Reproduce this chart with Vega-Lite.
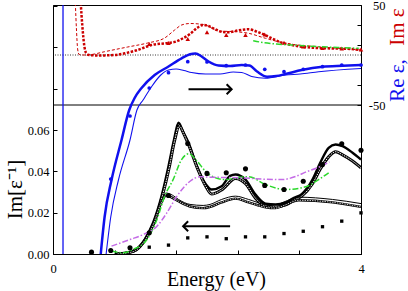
{
  "$schema": "https://vega.github.io/schema/vega-lite/v6.json",
  "width": 308,
  "height": 249,
  "autosize": {"type": "none"},
  "padding": {"left": 53, "top": 5, "right": 47, "bottom": 37},
  "background": "white",
  "config": {
    "view": {"stroke": "black", "strokeWidth": 1},
    "font": "Liberation Serif",
    "axis": {"grid": false, "domainColor": "black", "tickColor": "black", "labelColor": "black", "titleColor": "black", "labelFont": "Liberation Serif", "titleFont": "Liberation Serif", "labelFontSize": 12.5, "titleFontWeight": "normal", "tickSize": -4, "labelFlush": false, "labelOverlap": false}
  },
  "datasets": {
    "c1": [{"E":0.8,"v":0},{"E":0.91,"v":0.0003},{"E":1.04,"v":0.0014},{"E":1.19,"v":0.007},{"E":1.3,"v":0.0151},{"E":1.41,"v":0.028},{"E":1.5,"v":0.0425},{"E":1.57,"v":0.055},{"E":1.63,"v":0.0635},{"E":1.69,"v":0.059},{"E":1.76,"v":0.0538},{"E":1.87,"v":0.0425},{"E":1.98,"v":0.034},{"E":2.06,"v":0.0312},{"E":2.19,"v":0.0328},{"E":2.3,"v":0.0378},{"E":2.37,"v":0.0385},{"E":2.5,"v":0.036},{"E":2.63,"v":0.0288},{"E":2.76,"v":0.0244},{"E":2.89,"v":0.024},{"E":3.02,"v":0.0248},{"E":3.13,"v":0.0272},{"E":3.23,"v":0.029},{"E":3.37,"v":0.036},{"E":3.47,"v":0.0441},{"E":3.58,"v":0.0514},{"E":3.67,"v":0.053},{"E":3.76,"v":0.0522},{"E":3.89,"v":0.049},{"E":4.0,"v":0.0457}],
    "c2": [{"E":0.83,"v":0},{"E":0.95,"v":0.0005},{"E":1.06,"v":0.0016},{"E":1.2,"v":0.007},{"E":1.31,"v":0.015},{"E":1.42,"v":0.028},{"E":1.51,"v":0.042},{"E":1.58,"v":0.055},{"E":1.64,"v":0.062},{"E":1.7,"v":0.058},{"E":1.77,"v":0.052},{"E":1.88,"v":0.041},{"E":1.98,"v":0.033},{"E":2.06,"v":0.029},{"E":2.19,"v":0.031},{"E":2.37,"v":0.0365},{"E":2.5,"v":0.034},{"E":2.63,"v":0.027},{"E":2.76,"v":0.0232},{"E":2.89,"v":0.0228},{"E":3.02,"v":0.0238},{"E":3.13,"v":0.026},{"E":3.23,"v":0.028},{"E":3.37,"v":0.034},{"E":3.47,"v":0.041},{"E":3.58,"v":0.047},{"E":3.67,"v":0.0495},{"E":3.76,"v":0.048},{"E":3.89,"v":0.045},{"E":4.0,"v":0.0417}],
    "c3": [{"E":0.82,"v":0},{"E":0.95,"v":0.0005},{"E":1.06,"v":0.002},{"E":1.2,"v":0.0075},{"E":1.31,"v":0.0155},{"E":1.4,"v":0.025},{"E":1.47,"v":0.0295},{"E":1.55,"v":0.0285},{"E":1.63,"v":0.0264},{"E":1.78,"v":0.024},{"E":1.95,"v":0.0235},{"E":2.04,"v":0.024},{"E":2.19,"v":0.0264},{"E":2.37,"v":0.028},{"E":2.54,"v":0.0264},{"E":2.76,"v":0.024},{"E":2.89,"v":0.0238},{"E":3.0,"v":0.0252},{"E":3.19,"v":0.0275},{"E":3.63,"v":0.0264},{"E":4.0,"v":0.0244}],
    "c4": [{"E":0.84,"v":0},{"E":0.96,"v":0.0005},{"E":1.07,"v":0.0016},{"E":1.2,"v":0.007},{"E":1.31,"v":0.015},{"E":1.4,"v":0.0243},{"E":1.47,"v":0.0283},{"E":1.55,"v":0.0272},{"E":1.63,"v":0.0255},{"E":1.78,"v":0.023},{"E":1.95,"v":0.0222},{"E":2.04,"v":0.0228},{"E":2.19,"v":0.025},{"E":2.37,"v":0.0268},{"E":2.54,"v":0.025},{"E":2.76,"v":0.0226},{"E":2.89,"v":0.0222},{"E":3.0,"v":0.0235},{"E":3.19,"v":0.026},{"E":3.63,"v":0.025},{"E":4.0,"v":0.0228}],
    "greenB": [{"E":0.76,"v":0.0014},{"E":0.91,"v":0.0006},{"E":1.04,"v":0.0022},{"E":1.22,"v":0.007},{"E":1.35,"v":0.0167},{"E":1.45,"v":0.028},{"E":1.56,"v":0.036},{"E":1.67,"v":0.0457},{"E":1.76,"v":0.0485},{"E":1.87,"v":0.045},{"E":1.98,"v":0.04},{"E":2.1,"v":0.037},{"E":2.24,"v":0.036},{"E":2.4,"v":0.037},{"E":2.54,"v":0.0374},{"E":2.76,"v":0.0336},{"E":3.02,"v":0.0312},{"E":3.28,"v":0.0325},{"E":3.45,"v":0.036},{"E":3.58,"v":0.0393}],
    "magenta": [{"E":0.76,"v":0.0038},{"E":1.0,"v":0.007},{"E":1.17,"v":0.0094},{"E":1.35,"v":0.0134},{"E":1.48,"v":0.02},{"E":1.61,"v":0.028},{"E":1.78,"v":0.0352},{"E":1.91,"v":0.0374},{"E":2.04,"v":0.0372},{"E":2.41,"v":0.0369},{"E":2.75,"v":0.0362},{"E":2.97,"v":0.036},{"E":3.15,"v":0.0375},{"E":3.28,"v":0.0396},{"E":3.45,"v":0.042},{"E":3.59,"v":0.0446}],
    "circles": [{"E":0.5,"v":0.0009},{"E":0.75,"v":0.0017},{"E":1.0,"v":0.003},{"E":1.25,"v":0.0103},{"E":1.5,"v":0.0283},{"E":1.75,"v":0.0535},{"E":2.0,"v":0.039},{"E":2.25,"v":0.0393},{"E":2.5,"v":0.0412},{"E":2.75,"v":0.0332},{"E":3.0,"v":0.0312},{"E":3.25,"v":0.0352},{"E":3.5,"v":0.0433},{"E":3.75,"v":0.0533},{"E":4.0,"v":0.0502}],
    "squares": [{"E":1.25,"v":0.0033},{"E":1.5,"v":0.0043},{"E":1.75,"v":0.0078},{"E":2.0,"v":0.0083},{"E":2.25,"v":0.0074},{"E":2.5,"v":0.0083},{"E":2.75,"v":0.0083},{"E":3.0,"v":0.0099},{"E":3.25,"v":0.011},{"E":3.5,"v":0.0132},{"E":3.75,"v":0.0159},{"E":4.0,"v":0.0199}],
    "arrowB": [{"E":1.69,"v":0.01345},{"E":2.3,"v":0.01345}],
    "arrowBHead": [{"E":1.69,"v":0.01345}],
    "blueThick": [{"E":0.62,"v":-199},{"E":0.67,"v":-162},{"E":0.76,"v":-125},{"E":0.89,"v":-85},{"E":0.99,"v":-55},{"E":1.06,"v":-43},{"E":1.15,"v":-33},{"E":1.32,"v":-20},{"E":1.5,"v":-11.5},{"E":1.67,"v":-3.3},{"E":1.78,"v":0.7},{"E":1.85,"v":1.5},{"E":1.93,"v":-1.5},{"E":2.02,"v":-6.5},{"E":2.15,"v":-10.5},{"E":2.3,"v":-11},{"E":2.45,"v":-10},{"E":2.55,"v":-10.5},{"E":2.65,"v":-16.5},{"E":2.78,"v":-21.7},{"E":2.9,"v":-21},{"E":3.02,"v":-19},{"E":3.23,"v":-15},{"E":3.5,"v":-11.7},{"E":3.76,"v":-10.7},{"E":4.0,"v":-10}],
    "blueThin": [{"E":0.69,"v":-199},{"E":0.75,"v":-162},{"E":0.85,"v":-125},{"E":1.0,"v":-85},{"E":1.09,"v":-55},{"E":1.17,"v":-45},{"E":1.28,"v":-31.7},{"E":1.4,"v":-20},{"E":1.5,"v":-15},{"E":1.6,"v":-14},{"E":1.7,"v":-15.5},{"E":1.8,"v":-17.5},{"E":1.98,"v":-19},{"E":2.17,"v":-19},{"E":2.34,"v":-17},{"E":2.45,"v":-17.5},{"E":2.58,"v":-21.5},{"E":2.76,"v":-23.3},{"E":3.02,"v":-20},{"E":3.21,"v":-19},{"E":3.45,"v":-16.7},{"E":4.0,"v":-13.5}],
    "blueVert": [{"E":0.13,"v":50},{"E":0.13,"v":-199}],
    "blueDots": [{"E":0.75,"v":-124},{"E":1.0,"v":-61},{"E":1.25,"v":-33},{"E":1.5,"v":-17.7},{"E":1.75,"v":-6.7},{"E":2.0,"v":-7},{"E":2.25,"v":-10.7},{"E":2.5,"v":-10},{"E":2.75,"v":-14.3},{"E":3.0,"v":-16.7},{"E":3.25,"v":-14.3},{"E":3.5,"v":-11.7},{"E":3.75,"v":-10},{"E":4.0,"v":-10}],
    "redThick": [{"E":0.36,"v":52},{"E":0.38,"v":30},{"E":0.405,"v":10},{"E":0.43,"v":2},{"E":0.47,"v":0},{"E":0.6,"v":-0.5},{"E":0.8,"v":0},{"E":0.95,"v":2},{"E":1.1,"v":5},{"E":1.28,"v":10},{"E":1.49,"v":12},{"E":1.6,"v":13.5},{"E":1.67,"v":16},{"E":1.78,"v":21},{"E":1.87,"v":27},{"E":1.95,"v":30},{"E":2.02,"v":29},{"E":2.1,"v":26},{"E":2.2,"v":23},{"E":2.28,"v":22.7},{"E":2.4,"v":24.5},{"E":2.54,"v":25.7},{"E":2.65,"v":23.3},{"E":2.78,"v":19},{"E":2.97,"v":12.3},{"E":3.1,"v":10},{"E":3.23,"v":8.3},{"E":3.54,"v":6.7},{"E":3.8,"v":6.3},{"E":4.0,"v":5}],
    "redThin": [{"E":0.29,"v":52},{"E":0.305,"v":25},{"E":0.32,"v":6},{"E":0.34,"v":0.5},{"E":0.4,"v":0},{"E":0.5,"v":0.5},{"E":0.67,"v":3.3},{"E":0.97,"v":8},{"E":1.23,"v":12},{"E":1.45,"v":17},{"E":1.58,"v":25},{"E":1.67,"v":30},{"E":1.78,"v":31.5},{"E":1.9,"v":31},{"E":1.98,"v":30},{"E":2.15,"v":24},{"E":2.37,"v":23.3},{"E":2.54,"v":21.7},{"E":2.76,"v":16.7},{"E":3.02,"v":11.7},{"E":3.45,"v":8.3},{"E":4.0,"v":5}],
    "redTri": [{"E":1.25,"v":11},{"E":1.5,"v":12},{"E":1.75,"v":16},{"E":2.0,"v":22.7},{"E":2.25,"v":20},{"E":2.5,"v":20},{"E":2.75,"v":20.5},{"E":3.0,"v":12.3},{"E":3.25,"v":8.5},{"E":3.5,"v":7},{"E":3.75,"v":6.5},{"E":4.0,"v":5.5}],
    "greenT": [{"E":2.6,"v":14.3},{"E":2.7,"v":12.8},{"E":2.9,"v":11},{"E":3.2,"v":9.5},{"E":3.45,"v":8.3},{"E":3.7,"v":7.5},{"E":3.97,"v":6.7}],
    "zeroLine": [{"v":0}],
    "sepLine": [{"v":-50}],
    "arrowT": [{"E":1.76,"v":-34.3},{"E":2.32,"v":-34.3}],
    "arrowTHead": [{"E":2.32,"v":-34.3}],
    "imLabel": [{"E":4.475,"v":28,"t":"Im ε"}]
  },
  "resolve": {"scale": {"y": "independent"}},
  "layer": [
    {
      "layer": [
        {"data": {"name": "c1"}, "mark": {"type": "line", "color": "black", "strokeWidth": 2.4, "interpolate": "monotone", "clip": true},
         "encoding": {
           "x": {"field": "E", "type": "quantitative", "scale": {"domain": [0, 4], "nice": false, "zero": false},
                 "axis": {"values": [0,0.2,0.4,0.6,0.8,1,1.2,1.4,1.6,1.8,2,2.2,2.4,2.6,2.8,3,3.2,3.4,3.6,3.8,4], "labelExpr": "abs(datum.value - round(datum.value)) < 0.01 ? format(datum.value, 'd') : ''", "labelPadding": 12, "labelFont": "Liberation Serif", "title": "Energy (eV)", "titleFont": "Liberation Serif", "titleFontWeight": "normal", "titleFontSize": 20, "titleX": 163, "titleY": 31.5, "titleAlign": "center", "titleBaseline": "alphabetic"}},
           "y": {"field": "v", "type": "quantitative", "scale": {"domain": [0, 0.1205], "nice": false},
                 "axis": {"orient": "left", "values": [0,0.005,0.01,0.015,0.02,0.025,0.03,0.035,0.04,0.045,0.05,0.055,0.06,0.065,0.07,0.075,0.08,0.085,0.09,0.095,0.1,0.105,0.11,0.115,0.12], "labelExpr": "datum.value < 0.07 && abs(datum.value*50 - round(datum.value*50)) < 0.01 ? format(datum.value, '.2f') : ''", "labelPadding": 8, "labelFont": "Liberation Serif", "title": "Im[ε⁻¹]", "titleFont": "Liberation Serif", "titleFontWeight": "normal", "titleFontSize": 21, "titleAngle": 270, "titleX": -38, "titleY": 184, "titleAlign": "center", "titleBaseline": "middle"}}
         }},
        {"data": {"name": "c2"}, "mark": {"type": "line", "color": "black", "strokeWidth": 3, "interpolate": "monotone", "clip": true},
         "encoding": {"x": {"field": "E", "type": "quantitative", "scale": {"domain": [0, 4], "nice": false, "zero": false}}, "y": {"field": "v", "type": "quantitative", "scale": {"domain": [0, 0.1205], "nice": false}}}},
        {"data": {"name": "c2"}, "mark": {"type": "line", "color": "white", "strokeWidth": 1, "strokeDash": [1.5, 1], "interpolate": "monotone", "clip": true},
         "encoding": {"x": {"field": "E", "type": "quantitative", "scale": {"domain": [0, 4], "nice": false, "zero": false}}, "y": {"field": "v", "type": "quantitative", "scale": {"domain": [0, 0.1205], "nice": false}}}},
        {"data": {"name": "c3"}, "mark": {"type": "line", "color": "black", "strokeWidth": 1, "interpolate": "monotone", "clip": true},
         "encoding": {"x": {"field": "E", "type": "quantitative", "scale": {"domain": [0, 4], "nice": false, "zero": false}}, "y": {"field": "v", "type": "quantitative", "scale": {"domain": [0, 0.1205], "nice": false}}}},
        {"data": {"name": "c4"}, "mark": {"type": "line", "color": "black", "strokeWidth": 2.4, "interpolate": "monotone", "clip": true},
         "encoding": {"x": {"field": "E", "type": "quantitative", "scale": {"domain": [0, 4], "nice": false, "zero": false}}, "y": {"field": "v", "type": "quantitative", "scale": {"domain": [0, 0.1205], "nice": false}}}},
        {"data": {"name": "c4"}, "mark": {"type": "line", "color": "white", "strokeWidth": 0.8, "strokeDash": [1.5, 1], "interpolate": "monotone", "clip": true},
         "encoding": {"x": {"field": "E", "type": "quantitative", "scale": {"domain": [0, 4], "nice": false, "zero": false}}, "y": {"field": "v", "type": "quantitative", "scale": {"domain": [0, 0.1205], "nice": false}}}},
        {"data": {"name": "greenB"}, "mark": {"type": "line", "color": "#2bd82b", "strokeWidth": 1.5, "strokeDash": [6, 2, 1.5, 2], "interpolate": "monotone", "clip": true},
         "encoding": {"x": {"field": "E", "type": "quantitative", "scale": {"domain": [0, 4], "nice": false, "zero": false}}, "y": {"field": "v", "type": "quantitative", "scale": {"domain": [0, 0.1205], "nice": false}}}},
        {"data": {"name": "magenta"}, "mark": {"type": "line", "color": "#c46be6", "strokeWidth": 1.5, "strokeDash": [6, 2, 1.5, 2], "interpolate": "monotone", "clip": true},
         "encoding": {"x": {"field": "E", "type": "quantitative", "scale": {"domain": [0, 4], "nice": false, "zero": false}}, "y": {"field": "v", "type": "quantitative", "scale": {"domain": [0, 0.1205], "nice": false}}}},
        {"data": {"name": "circles"}, "mark": {"type": "point", "shape": "circle", "filled": true, "color": "black", "size": 26, "opacity": 1},
         "encoding": {"x": {"field": "E", "type": "quantitative", "scale": {"domain": [0, 4], "nice": false, "zero": false}}, "y": {"field": "v", "type": "quantitative", "scale": {"domain": [0, 0.1205], "nice": false}}}},
        {"data": {"name": "squares"}, "mark": {"type": "point", "shape": "square", "filled": true, "color": "black", "size": 11, "opacity": 1},
         "encoding": {"x": {"field": "E", "type": "quantitative", "scale": {"domain": [0, 4], "nice": false, "zero": false}}, "y": {"field": "v", "type": "quantitative", "scale": {"domain": [0, 0.1205], "nice": false}}}},
        {"data": {"name": "arrowB"}, "mark": {"type": "line", "color": "black", "strokeWidth": 2},
         "encoding": {"x": {"field": "E", "type": "quantitative", "scale": {"domain": [0, 4], "nice": false, "zero": false}}, "y": {"field": "v", "type": "quantitative", "scale": {"domain": [0, 0.1205], "nice": false}}}},
        {"data": {"name": "arrowBHead"}, "mark": {"type": "point", "shape": "M1,-1L0,0L1,1", "filled": false, "stroke": "black", "strokeWidth": 2, "size": 100, "opacity": 1},
         "encoding": {"x": {"field": "E", "type": "quantitative", "scale": {"domain": [0, 4], "nice": false, "zero": false}}, "y": {"field": "v", "type": "quantitative", "scale": {"domain": [0, 0.1205], "nice": false}}}}
      ]
    },
    {
      "layer": [
        {"data": {"name": "zeroLine"}, "mark": {"type": "rule", "color": "black", "strokeWidth": 0.8, "strokeDash": [1, 1.5]},
         "encoding": {"y": {"field": "v", "type": "quantitative", "scale": {"domain": [-199, 50], "nice": false},
           "axis": {"orient": "right", "values": [-50,-40,-30,-20,-10,0,10,20,30,40,50], "labelExpr": "datum.value == 50 ? '50' : datum.value == 0 ? '0' : datum.value == -50 ? '-50' : ''", "labelAlign": "right", "labelPadding": 28, "labelFont": "Liberation Serif", "title": "Re ε,", "titleFont": "Liberation Serif", "titleFontWeight": "normal", "titleColor": "#1010ee", "titleFontSize": 21, "titleAngle": 270, "titleX": 36, "titleY": 75, "titleAlign": "center", "titleBaseline": "middle"}}}},
        {"data": {"name": "sepLine"}, "mark": {"type": "rule", "color": "black", "strokeWidth": 1},
         "encoding": {"y": {"field": "v", "type": "quantitative", "scale": {"domain": [-199, 50], "nice": false}}}},
        {"data": {"name": "redThin"}, "mark": {"type": "line", "color": "#cc0000", "strokeWidth": 1, "strokeDash": [3, 2], "interpolate": "monotone", "clip": true},
         "encoding": {"x": {"field": "E", "type": "quantitative", "scale": {"domain": [0, 4], "nice": false, "zero": false}}, "y": {"field": "v", "type": "quantitative", "scale": {"domain": [-199, 50], "nice": false}}}},
        {"data": {"name": "redThick"}, "mark": {"type": "line", "color": "#cc0000", "strokeWidth": 2.5, "strokeDash": [2.5, 1.5], "interpolate": "monotone", "clip": true},
         "encoding": {"x": {"field": "E", "type": "quantitative", "scale": {"domain": [0, 4], "nice": false, "zero": false}}, "y": {"field": "v", "type": "quantitative", "scale": {"domain": [-199, 50], "nice": false}}}},
        {"data": {"name": "redTri"}, "mark": {"type": "point", "shape": "triangle-up", "filled": true, "color": "#cc0000", "size": 20, "opacity": 1},
         "encoding": {"x": {"field": "E", "type": "quantitative", "scale": {"domain": [0, 4], "nice": false, "zero": false}}, "y": {"field": "v", "type": "quantitative", "scale": {"domain": [-199, 50], "nice": false}}}},
        {"data": {"name": "greenT"}, "mark": {"type": "line", "color": "#2bd82b", "strokeWidth": 1.5, "strokeDash": [6, 2, 1.5, 2], "interpolate": "monotone", "clip": true},
         "encoding": {"x": {"field": "E", "type": "quantitative", "scale": {"domain": [0, 4], "nice": false, "zero": false}}, "y": {"field": "v", "type": "quantitative", "scale": {"domain": [-199, 50], "nice": false}}}},
        {"data": {"name": "blueVert"}, "mark": {"type": "line", "color": "#1010ee", "strokeWidth": 1.3, "clip": true},
         "encoding": {"x": {"field": "E", "type": "quantitative", "scale": {"domain": [0, 4], "nice": false, "zero": false}}, "y": {"field": "v", "type": "quantitative", "scale": {"domain": [-199, 50], "nice": false}}}},
        {"data": {"name": "blueThin"}, "mark": {"type": "line", "color": "#1010ee", "strokeWidth": 1.1, "interpolate": "monotone", "clip": true},
         "encoding": {"x": {"field": "E", "type": "quantitative", "scale": {"domain": [0, 4], "nice": false, "zero": false}}, "y": {"field": "v", "type": "quantitative", "scale": {"domain": [-199, 50], "nice": false}}}},
        {"data": {"name": "blueThick"}, "mark": {"type": "line", "color": "#1010ee", "strokeWidth": 2.5, "interpolate": "monotone", "clip": true},
         "encoding": {"x": {"field": "E", "type": "quantitative", "scale": {"domain": [0, 4], "nice": false, "zero": false}}, "y": {"field": "v", "type": "quantitative", "scale": {"domain": [-199, 50], "nice": false}}}},
        {"data": {"name": "blueDots"}, "mark": {"type": "point", "shape": "circle", "filled": true, "color": "#1010ee", "size": 14, "opacity": 1},
         "encoding": {"x": {"field": "E", "type": "quantitative", "scale": {"domain": [0, 4], "nice": false, "zero": false}}, "y": {"field": "v", "type": "quantitative", "scale": {"domain": [-199, 50], "nice": false}}}},
        {"data": {"name": "arrowT"}, "mark": {"type": "line", "color": "black", "strokeWidth": 2},
         "encoding": {"x": {"field": "E", "type": "quantitative", "scale": {"domain": [0, 4], "nice": false, "zero": false}}, "y": {"field": "v", "type": "quantitative", "scale": {"domain": [-199, 50], "nice": false}}}},
        {"data": {"name": "arrowTHead"}, "mark": {"type": "point", "shape": "M-1,-1L0,0L-1,1", "filled": false, "stroke": "black", "strokeWidth": 2, "size": 100, "opacity": 1},
         "encoding": {"x": {"field": "E", "type": "quantitative", "scale": {"domain": [0, 4], "nice": false, "zero": false}}, "y": {"field": "v", "type": "quantitative", "scale": {"domain": [-199, 50], "nice": false}}}},
        {"data": {"name": "imLabel"}, "mark": {"type": "text", "color": "#cc0000", "font": "Liberation Serif", "fontSize": 21, "angle": 270, "align": "center", "baseline": "middle"},
         "encoding": {"x": {"field": "E", "type": "quantitative", "scale": {"domain": [0, 4], "nice": false, "zero": false}}, "y": {"field": "v", "type": "quantitative", "scale": {"domain": [-199, 50], "nice": false}}, "text": {"field": "t"}}}
      ]
    }
  ]
}
